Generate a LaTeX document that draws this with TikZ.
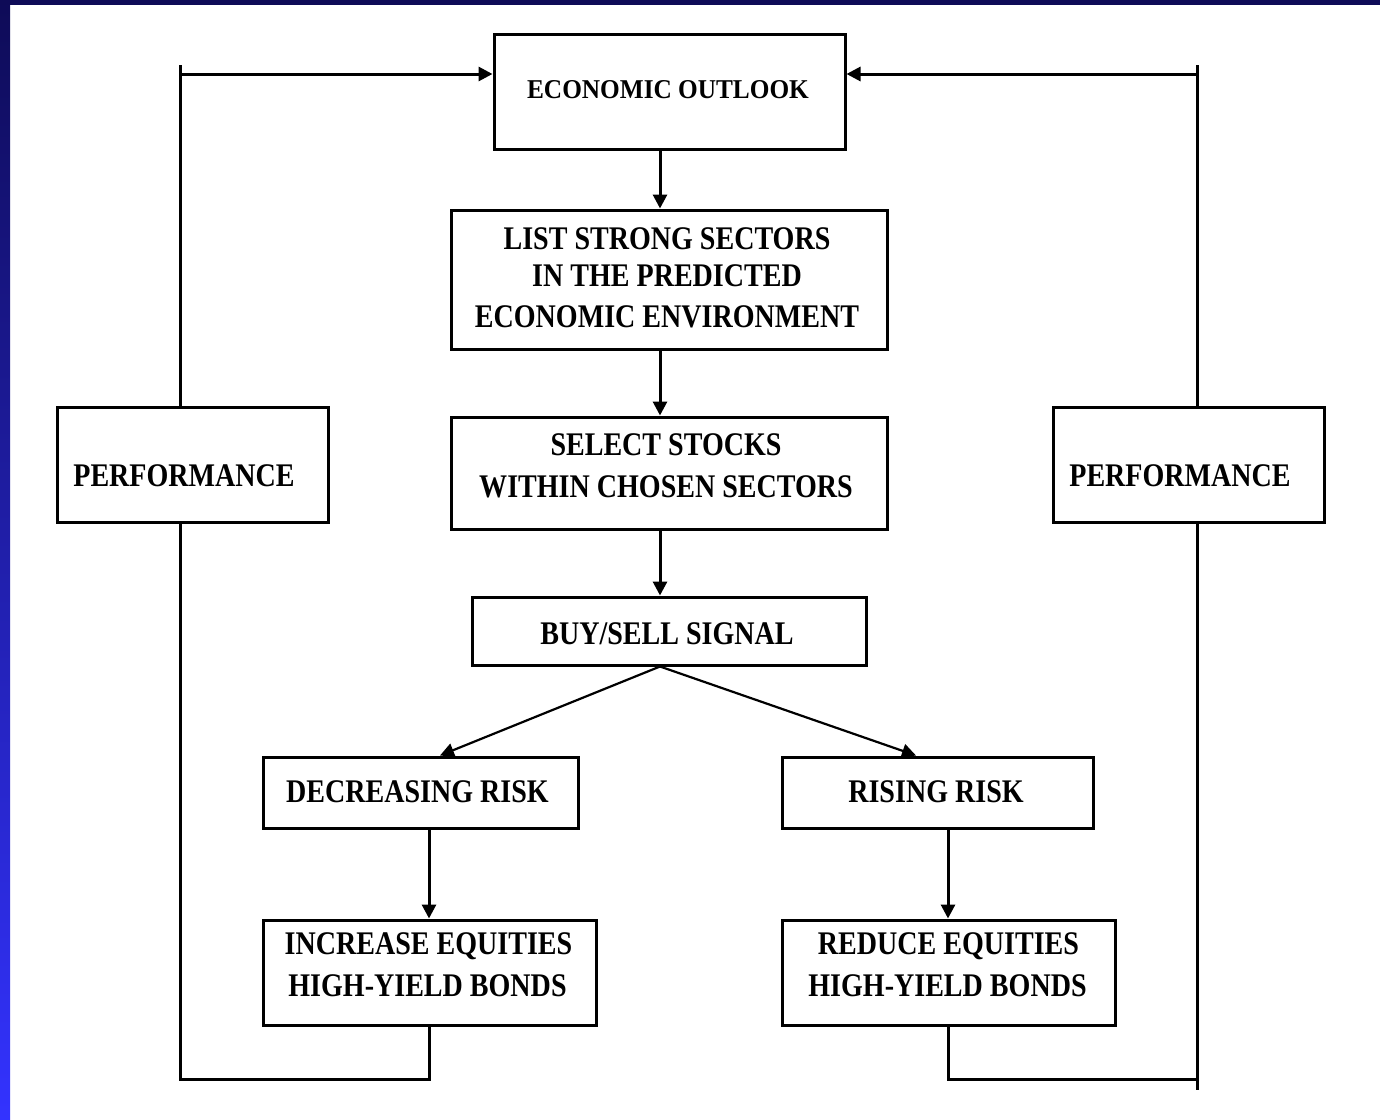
\documentclass[tikz,border=0pt]{standalone}
\usepackage{fontspec}
\setmainfont{Liberation Serif}
\usetikzlibrary{arrows.meta}
\definecolor{navy}{RGB}{14,11,87}
\definecolor{brightblue}{RGB}{51,51,255}
\newcommand{\sq}[1]{\scalebox{0.85}[1]{#1}}
\begin{document}
\begin{tikzpicture}[x=0.5pt,y=-0.5pt,
  box/.style={draw, line width=1.5pt, inner sep=0pt},
  lbl/.style={anchor=base, inner sep=0pt, font=\bfseries\fontsize{16.5}{20}\selectfont},
  conn/.style={line width=1.5pt},
  arr/.style={line width=1.5pt, -{Triangle[length=7pt,width=7pt]}},
  darr/.style={line width=1.1pt, -{Triangle[length=7pt,width=7pt]}}]
\useasboundingbox (0,0) rectangle (1380,1119);
\fill[white] (0,0) rectangle (1380,1119);
\shade[top color=navy, bottom color=brightblue] (0,0) rectangle (10,1119);
\fill[navy] (0,0) rectangle (1380,5);

% boxes
\node[box, minimum width=175.5pt, minimum height=57.5pt] (eco) at (669.5,91.5) {};
\node[box, minimum width=218pt, minimum height=69.5pt] (list) at (669,279.5) {};
\node[box, minimum width=218pt, minimum height=56pt] (sel) at (669,473) {};
\node[box, minimum width=197pt, minimum height=34pt] (buy) at (669,631) {};
\node[box, minimum width=157.5pt, minimum height=35.5pt] (dec) at (420.5,792.5) {};
\node[box, minimum width=155.5pt, minimum height=35.5pt] (rise) at (937.5,792.5) {};
\node[box, minimum width=166.5pt, minimum height=52.5pt] (inc) at (429.5,972.5) {};
\node[box, minimum width=166.5pt, minimum height=52.5pt] (red) at (948.5,972.5) {};
\node[box, minimum width=135.5pt, minimum height=57.5pt] (perfL) at (192.5,464.5) {};
\node[box, minimum width=135.5pt, minimum height=57.5pt] (perfR) at (1188.5,464.5) {};

% texts
\node[lbl, font=\bfseries\fontsize{13.6}{16}\selectfont] (tEco) at (668,98) {\scalebox{0.93}[1]{ECONOMIC OUTLOOK}};
\node[lbl] (tList1) at (667,249) {\sq{LIST STRONG SECTORS}};
\node[lbl] (tList2) at (667,286) {\sq{IN THE PREDICTED}};
\node[lbl] (tList3) at (667,327) {\sq{ECONOMIC ENVIRONMENT}};
\node[lbl] (tSel1) at (666,455) {\sq{SELECT STOCKS}};
\node[lbl] (tSel2) at (666,497) {\sq{WITHIN CHOSEN SECTORS}};
\node[lbl] (tBuy) at (667,644) {\sq{BUY/SELL SIGNAL}};
\node[lbl] (tDec) at (417.5,802) {\sq{DECREASING RISK}};
\node[lbl] (tRise) at (936,802) {\sq{RISING RISK}};
\node[lbl] (tInc1) at (428.5,954) {\sq{INCREASE EQUITIES}};
\node[lbl] (tInc2) at (427.5,996) {\sq{HIGH-YIELD BONDS}};
\node[lbl] (tRed1) at (948.5,954) {\sq{REDUCE EQUITIES}};
\node[lbl] (tRed2) at (947.5,996) {\sq{HIGH-YIELD BONDS}};
\node[lbl] (tPerfL) at (184,486) {\sq{PERFORMANCE}};
\node[lbl] (tPerfR) at (1180,486) {\sq{PERFORMANCE}};

% helper coordinates
\coordinate (ax) at (660,0);
\coordinate (cdl) at (440,0);
\coordinate (cdr) at (916,0);
\coordinate (lx) at (429,0);
\coordinate (rx) at (948,0);
\coordinate (lb) at (180,1079);
\coordinate (lt) at (180,65);
\coordinate (la) at (180,74);
\coordinate (rb) at (1197,1079);
\coordinate (rbe) at (1197,1090);
\coordinate (rt) at (1197,65);
\coordinate (ra) at (1197,74);

% main flow
\draw[arr] (eco.south -| ax) -- (list.north -| ax);
\draw[arr] (list.south -| ax) -- (sel.north -| ax);
\draw[arr] (sel.south -| ax) -- (buy.north -| ax);
\draw[darr] (buy.south -| ax) -- (dec.north -| cdl);
\draw[darr] (buy.south -| ax) -- (rise.north -| cdr);
\draw[arr] (dec.south -| lx) -- (inc.north -| lx);
\draw[arr] (rise.south -| rx) -- (red.north -| rx);

% left feedback loop
\draw[conn] (inc.south -| lx) |- (lb) -- (perfL.south -| lb);
\draw[conn] (perfL.north -| lt) -- (lt);
\draw[arr] (la) -- (la -| eco.west);

% right feedback loop
\draw[conn] (red.south -| rx) |- (rb);
\draw[conn] (perfR.south -| rbe) -- (rbe);
\draw[conn] (perfR.north -| rt) -- (rt);
\draw[arr] (ra) -- (ra -| eco.east);
\end{tikzpicture}
\end{document}
